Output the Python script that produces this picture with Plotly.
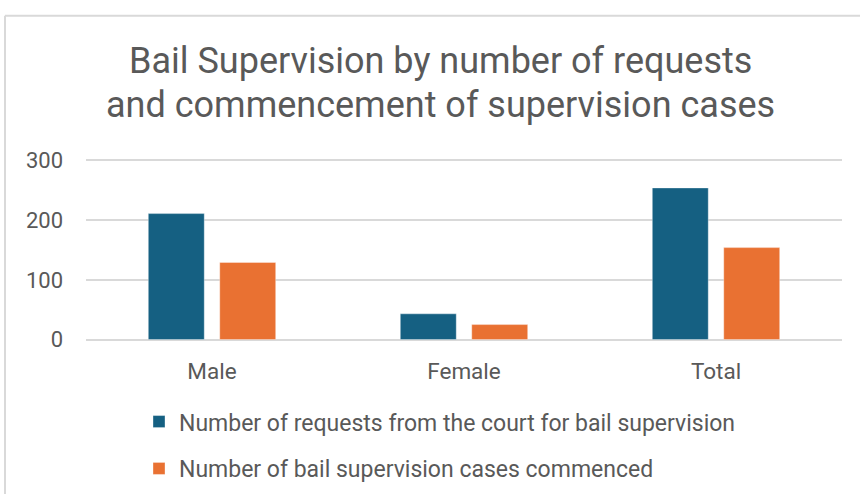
import plotly.graph_objects as go

# Data
categories = ["Male", "Female", "Total"]
requests = [211, 43, 254]
commenced = [129, 25, 154]
series_names = [
    "Number of requests from the court for bail supervision",
    "Number of bail supervision cases commenced",
]
y_ticks = [0, 100, 200, 300]

W, H = 860, 494
ML, MR, MT, MB = 86, 18, 158.5, 153.2
PW, PH = W - ML - MR, H - MT - MB

def px_x(px):
    return (px - ML) / PW

def px_y(py):
    return (H - MB - py) / PH

BLUE = "#156082"
ORANGE = "#E97132"
TEXT = "#595959"
GRID = "#D9D9D9"
FONT = "Roboto"

fig = go.Figure()
fig.add_trace(go.Bar(
    x=categories, y=requests, name=series_names[0],
    marker=dict(color=BLUE, line=dict(color="rgba(255,255,255,0.35)", width=1)),
    legendgroup="a",
))
fig.add_trace(go.Bar(
    x=categories, y=commenced, name=series_names[1],
    marker=dict(color=ORANGE, line=dict(color="rgba(255,255,255,0.35)", width=1)),
    legendgroup="b",
))

fig.update_layout(
    width=W, height=H,
    margin=dict(l=ML, r=MR, t=MT, b=MB, autoexpand=False),
    paper_bgcolor="white", plot_bgcolor="white",
    barmode="group", bargap=0.433, bargroupgap=0.217,
    font=dict(family=FONT, color=TEXT, size=22),
    showlegend=True,
    legend=dict(
        x=px_x(139), y=px_y(400), xanchor="left", yanchor="top",
        orientation="v", traceorder="grouped", tracegroupgap=14,
        font=dict(size=23, color=TEXT), bgcolor="rgba(0,0,0,0)",
    ),
    xaxis=dict(
        showgrid=False, showline=False, zeroline=False, ticks="",
        tickfont=dict(size=22.5, color=TEXT), ticklabelstandoff=14,
        fixedrange=True,
    ),
    yaxis=dict(
        range=[-2.5, 302.5], tickvals=y_ticks, showgrid=True, gridcolor=GRID,
        gridwidth=1.5, zeroline=False, showline=False, ticks="",
        tickfont=dict(size=22, color=TEXT), ticklabelstandoff=22,
        fixedrange=True,
    ),
    annotations=[
        dict(text="Bail Supervision by number of requests", x=px_x(440), y=px_y(60),
             xref="paper", yref="paper", showarrow=False, xanchor="center",
             yanchor="middle", font=dict(size=36, color=TEXT, family=FONT)),
        dict(text="and commencement of supervision cases", x=px_x(440), y=px_y(104),
             xref="paper", yref="paper", showarrow=False, xanchor="center",
             yanchor="middle", font=dict(size=36, color=TEXT, family=FONT)),
    ],
    shapes=[
        # chart area border (runs off the right and bottom edges)
        dict(type="line", xref="paper", yref="paper", x0=px_x(5), x1=px_x(900),
             y0=px_y(15), y1=px_y(15), line=dict(color=GRID, width=2)),
        dict(type="line", xref="paper", yref="paper", x0=px_x(5), x1=px_x(5),
             y0=px_y(15), y1=px_y(520), line=dict(color=GRID, width=2)),
    ],
)

fig.write_html("out.html", config={"displayModeBar": False})
